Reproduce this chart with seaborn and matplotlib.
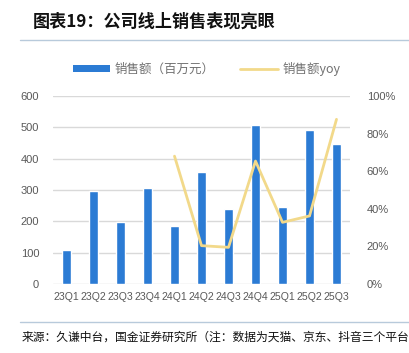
import numpy as np
import pandas as pd
import matplotlib
matplotlib.use("Agg")
import matplotlib.pyplot as plt
import seaborn as sns
from matplotlib.lines import Line2D
from matplotlib.patches import Patch

quarters = ["23Q1", "23Q2", "23Q3", "23Q4", "24Q1", "24Q2", "24Q3", "24Q4", "25Q1", "25Q2", "25Q3"]
sales = [110, 298, 199, 306, 186, 359, 239, 506, 247, 490, 448]
yoy = [np.nan, np.nan, np.nan, np.nan, 0.68, 0.204, 0.195, 0.654, 0.328, 0.362, 0.876]

left_ticks = [0, 100, 200, 300, 400, 500, 600]
right_ticks = [0, 0.2, 0.4, 0.6, 0.8, 1.0]
right_labels = ["0%", "20%", "40%", "60%", "80%", "100%"]

title = "图表19：公司线上销售表现亮眼"
legend_bar = "销售额（百万元）"
legend_line = "销售额yoy"
source = "来源：久谦中台，国金证券研究所（注：数据为天猫、京东、抖音三个平台"

sns.set_theme(style="white")
plt.rcParams["font.family"] = ["Liberation Sans", "Noto Sans CJK SC", "DejaVu Sans"]

bar_color = "#2B7BD4"
line_color = "#F2D98A"
grid_color = "#D9D9D9"
tick_color = "#595959"

df = pd.DataFrame({"q": quarters, "sales": sales, "yoy": yoy, "pos": np.arange(len(quarters))})

fig = plt.figure(figsize=(4.09, 3.53), dpi=100)
ax = fig.add_axes([53/409, 1-284/353, (350-53)/409, (284-96)/353])

sns.barplot(data=df, x="q", y="sales", color=bar_color, width=0.31, ax=ax, saturation=1)
ax.set_ylim(0, 600)
ax.set_xlim(-0.5, len(quarters) - 0.5)
ax.set_yticks(left_ticks)
ax.set_xlabel("")
ax.set_ylabel("")
for s in ax.spines.values():
    s.set_visible(False)
ax.grid(axis="y", color=grid_color, linewidth=1)
ax.set_axisbelow(True)
ax.tick_params(axis="both", length=0, labelsize=8, colors=tick_color)
ax.tick_params(axis="x", pad=6, labelsize=7.6)
ax.tick_params(axis="y", pad=10)

ax2 = ax.twinx()
sns.lineplot(data=df, x="pos", y="yoy", color=line_color, linewidth=2, ax=ax2)
ax2.set_ylim(0, 1.0)
ax2.set_xlim(-0.5, len(quarters) - 0.5)
ax2.set_yticks(right_ticks)
ax2.set_yticklabels(right_labels)
ax2.set_ylabel("")
ax2.set_xlabel("")
for s in ax2.spines.values():
    s.set_visible(False)
ax2.tick_params(axis="both", length=0, labelsize=8, colors=tick_color)
ax2.tick_params(axis="y", pad=12)
ax2.grid(False)

handles = [Patch(facecolor=bar_color, edgecolor="none"),
           Line2D([0], [0], color=line_color, linewidth=2)]
fig.legend(handles, [legend_bar, legend_line], loc="center", bbox_to_anchor=(0.505, 1-69/353),
           ncol=2, frameon=False, handlelength=3.0, handleheight=0.5,
           columnspacing=2.0, handletextpad=0.4, labelcolor="#707070",
           prop={"family": ["Noto Sans CJK SC", "DejaVu Sans"], "size": 9})

fig.text(33/409, 1-22/353, title, fontsize=12.3, fontweight="bold", va="center", ha="left",
         family=["Noto Sans CJK SC", "DejaVu Sans"], color="#111111")
fig.add_artist(Line2D([20/409, 1], [1-40/353, 1-40/353], color="#B8CADB", linewidth=1))
fig.add_artist(Line2D([20/409, 1], [1-322/353, 1-322/353], color="#B8CADB", linewidth=1))
fig.text(22/409, 1-337/353, source, fontsize=8.5, va="center", ha="left",
         family=["Noto Sans CJK SC", "DejaVu Sans"], color="#111111")

fig.savefig("out.png", dpi=100)
